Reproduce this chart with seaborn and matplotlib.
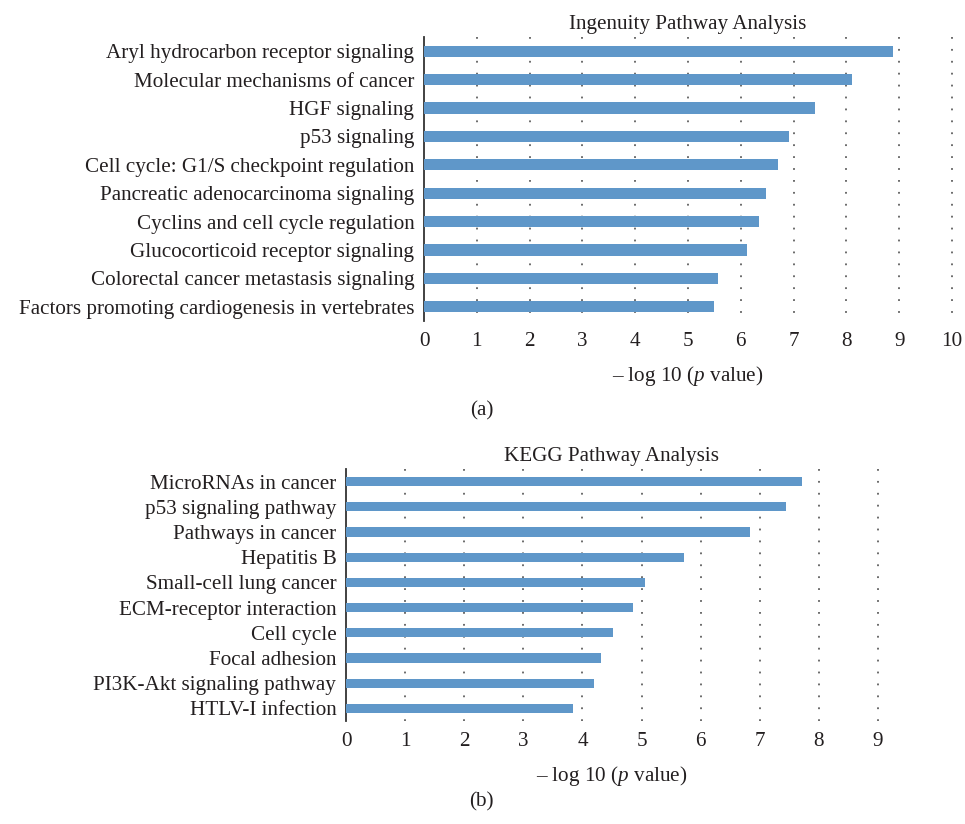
import matplotlib
matplotlib.use("Agg")
import matplotlib.pyplot as plt
import seaborn as sns
import pandas as pd

# ── Data ──────────────────────────────────────────────────────────────────────
ipa_pathways = [
    "Aryl hydrocarbon receptor signaling",
    "Molecular mechanisms of cancer",
    "HGF signaling",
    "p53 signaling",
    "Cell cycle: G1/S checkpoint regulation",
    "Pancreatic adenocarcinoma signaling",
    "Cyclins and cell cycle regulation",
    "Glucocorticoid receptor signaling",
    "Colorectal cancer metastasis signaling",
    "Factors promoting cardiogenesis in vertebrates",
]
ipa_values = [8.89, 8.11, 7.41, 6.92, 6.70, 6.47, 6.34, 6.11, 5.57, 5.49]

kegg_pathways = [
    "MicroRNAs in cancer",
    "p53 signaling pathway",
    "Pathways in cancer",
    "Hepatitis B",
    "Small-cell lung cancer",
    "ECM-receptor interaction",
    "Cell cycle",
    "Focal adhesion",
    "PI3K-Akt signaling pathway",
    "HTLV-I infection",
]
kegg_values = [7.71, 7.44, 6.83, 5.72, 5.06, 4.85, 4.52, 4.32, 4.20, 3.84]

ipa_ticks = list(range(0, 11))
kegg_ticks = list(range(0, 10))

# ── Style ─────────────────────────────────────────────────────────────────────
sns.set_style("white")
plt.rcParams["font.family"] = ["Liberation Serif", "DejaVu Serif"]
plt.rcParams["mathtext.fontset"] = "custom"
plt.rcParams["mathtext.rm"] = "Liberation Serif"
plt.rcParams["mathtext.it"] = "Liberation Serif:italic"

BAR = "#5f97c9"
TXT = "#231f20"
FS = 15.2

fig = plt.figure(figsize=(9.65, 8.24), dpi=100)
W, H = 965, 824


def px_axes(left, right, top, bottom):
    return fig.add_axes([left / W, 1 - bottom / H, (right - left) / W, (bottom - top) / H])


def draw(ax, names, values, ticks, title, bar_w):
    df = pd.DataFrame({"pathway": names, "value": values})
    sns.barplot(data=df, x="value", y="pathway", order=names, color=BAR,
                width=bar_w, saturation=1, linewidth=0, ax=ax, zorder=3)
    n = len(names)
    ax.set_xlim(0, ticks[-1])
    ax.set_ylim(n - 0.5, -0.5)
    ax.set_xticks(ticks)
    # dotted grid, dots start at the top of the axis (about 12 px apart)
    for t in ticks[1:]:
        ax.plot([t, t], [-0.5, n - 0.5], color="#606060", lw=1.3,
                ls=(0, (1, 5.6)), zorder=1, clip_on=False)
    for s in ["top", "right", "bottom"]:
        ax.spines[s].set_visible(False)
    ax.spines["left"].set_color("#333333")
    ax.spines["left"].set_linewidth(1.3)
    ax.tick_params(axis="y", length=0, labelsize=FS, colors=TXT, pad=7)
    ax.tick_params(axis="x", length=0, labelsize=FS, colors=TXT, pad=8)
    ax.set_ylabel("")
    ax.set_xlabel("– log 10 ($\\it{p}$ value)", fontsize=FS, color=TXT, labelpad=9)
    ax.set_title(title, fontsize=FS, color=TXT, pad=6)


ax1 = px_axes(424, 952, 37, 321)
draw(ax1, ipa_pathways, ipa_values, ipa_ticks, "Ingenuity Pathway Analysis", 0.39)

ax2 = px_axes(346, 878, 469, 721)
draw(ax2, kegg_pathways, kegg_values, kegg_ticks, "KEGG Pathway Analysis", 0.36)

fig.text(482 / W, 1 - 411 / H, "(a)", ha="center", va="center", fontsize=FS, color=TXT)
fig.text(481 / W, 1 - 802 / H, "(b)", ha="center", va="center", fontsize=FS, color=TXT)

fig.savefig("out.png", dpi=100)
